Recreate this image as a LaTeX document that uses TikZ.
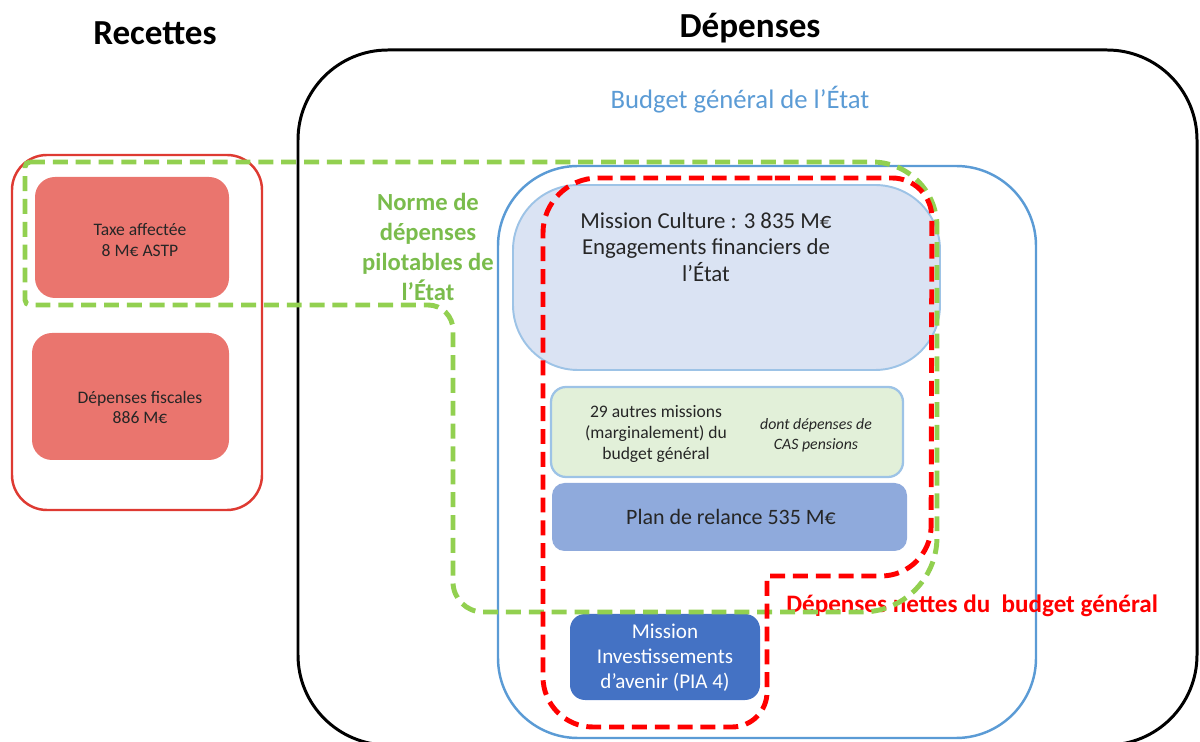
\documentclass[tikz,border=0pt]{standalone}
\usepackage{fontspec}
\setmainfont{Carlito}
\usetikzlibrary{fit}
\definecolor{blueline}{HTML}{5B9BD5}
\definecolor{lightblueline}{HTML}{9DC3E6}
\definecolor{culturefill}{HTML}{DAE3F3}
\definecolor{autresfill}{HTML}{E2F0D9}
\definecolor{relancefill}{HTML}{8FAADC}
\definecolor{piafill}{HTML}{4472C4}
\definecolor{salmon}{RGB}{234,117,110}
\definecolor{recred}{RGB}{222,58,50}
\definecolor{normgreen}{HTML}{92D050}
\definecolor{normtext}{RGB}{122,188,76}
\definecolor{dashred}{HTML}{FF0000}
\definecolor{darktext}{HTML}{262626}
\tikzset{
  fitbox/.style={inner sep=0pt, outer sep=0pt},
  salmonbox/.style={fitbox, fill=salmon, rounded corners=0.4cm},
  txt/.style={align=center, inner sep=0pt, text=darktext},
  greendash/.style={draw=normgreen, line width=2.8pt, dash pattern=on 8.5pt off 4.5pt},
  reddash/.style={draw=dashred, line width=2.8pt, dash pattern=on 8.5pt off 4.5pt},
}
\begin{document}
\begin{tikzpicture}[x=0.02cm, y=-0.02cm]
\useasboundingbox (0,0) rectangle (1200,742);
% outer frames
\node[fitbox, draw=black, line width=1.7pt, rounded corners=1.8cm, fit={(298,50) (1197,745)}] (dep) {};
\node[fitbox, draw=blueline, line width=1.4pt, rounded corners=1.6cm, fit={(498,166) (1036,738)}] (bge) {};
\node[fitbox, draw=recred, line width=1.4pt, rounded corners=0.7cm, fit={(12,155) (262,510)}] (rec) {};
% titles
\node[txt, text=black, font=\bfseries\fontsize{20}{24}\selectfont] (rect) at (155,33) {Recettes};
\node[txt, text=black, font=\bfseries\fontsize{20}{24}\selectfont] (dept) at (750,28) {Dépenses};
\node[txt, text=blueline, font=\fontsize{15.2}{18}\selectfont] (bget) at (740,100) {Budget général de l’État};
% recettes boxes
\node[salmonbox, fit={(35,177) (229,298)}] (taxe) {};
\node[txt, font=\fontsize{10}{11.4}\selectfont] (taxet) at (140,240) {Taxe affectée\\8 M€ ASTP};
\node[salmonbox, fit={(32,333) (229,460)}] (fisc) {};
\node[txt, font=\fontsize{10}{11.4}\selectfont] (fisct) at (140,407) {Dépenses fiscales\\886 M€};
% depenses boxes
\node[fitbox, fill=culturefill, draw=lightblueline, line width=1.1pt, rounded corners=1.3cm, fit={(513,185) (940,370)}] (cult) {};
\node[txt, font=\fontsize{13}{15}\selectfont] (cultt) at (706,247) {Mission Culture : 3 835 M€\\Engagements financiers de\\l’État};
\node[fitbox, fill=autresfill, draw=lightblueline, line width=1.3pt, rounded corners=0.3cm, fit={(551,387) (903,477)}] (autres) {};
\node[txt, font=\fontsize{10}{12.2}\selectfont] (autrest) at (656,434) {29 autres missions\\(marginalement) du\\budget général};
\node[txt, font=\itshape\fontsize{9}{11.2}\selectfont] (cast) at (816,435) {dont dépenses de\\CAS pensions};
\node[fitbox, fill=relancefill, rounded corners=0.25cm, fit={(552,483) (907,551)}] (rel) {};
\node[txt, font=\fontsize{12.5}{15}\selectfont] (relt) at (731,517) {Plan de relance 535 M€};
\node[fitbox, fill=piafill, rounded corners=0.3cm, fit={(570,614) (760,700)}] (pia) {};
\node[txt, text=white, font=\fontsize{12}{14.2}\selectfont] (piat) at (665,658) {Mission\\Investissements\\d’avenir (PIA 4)};
% labels
\node[txt, text=normtext, font=\bfseries\fontsize{14}{17}\selectfont] (normt) at (428,247) {Norme de\\dépenses\\pilotables de\\l’État};
\node[txt, anchor=west, text=dashred, font=\bfseries\fontsize{14.3}{17}\selectfont] (nett) at (786,606) {Dépenses nettes du~~budget général};
% dashed outlines
\draw[greendash] (25,162) [rounded corners=1.3cm] -- (937,162) [rounded corners=1.5cm] -- (937,612) [rounded corners=0.6cm] -- (453,612) [rounded corners=0.5cm] -- (453,305) [rounded corners=0.1cm] -- (25,305) -- cycle;
\draw[reddash] (720,178) [rounded corners=0.8cm] -- (932,178) [rounded corners=1cm] -- (931,576) [sharp corners] -- (767,576) [rounded corners=0.7cm] -- (767,727) [rounded corners=1cm] -- (543,727) [rounded corners=1.1cm] -- (543,178) -- cycle;
\end{tikzpicture}
\end{document}
